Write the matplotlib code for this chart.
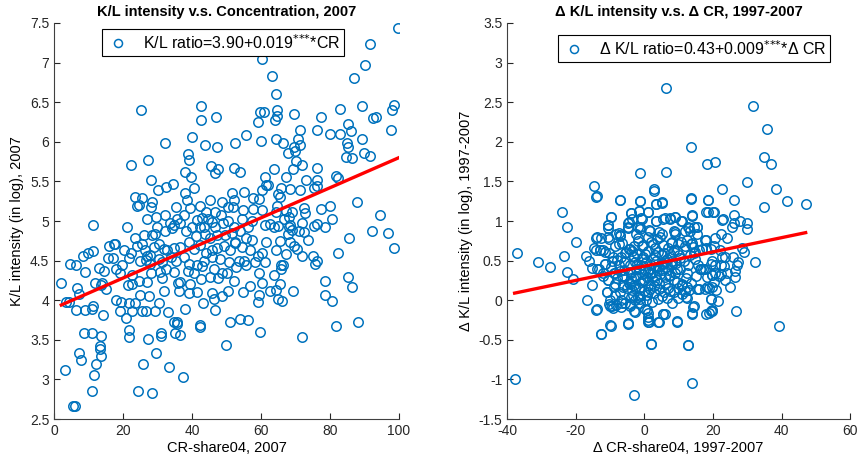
import numpy as np
import matplotlib
matplotlib.use('Agg')
import matplotlib.pyplot as plt
from matplotlib.ticker import FuncFormatter

plt.rcParams['font.family'] = ['Liberation Sans', 'DejaVu Sans']

# ---- data (CR-share04, K/L intensity), 2007 ----
pts_2007 = [
    # upper part
    (25.2,6.40),(42.7,6.45),(42.7,6.28),(46.9,6.31),(40.0,6.06),(32.3,5.99),(43.8,5.96),(47.2,5.93),
    (22.2,5.71),(27.2,5.77),(38.7,5.84),(39.1,5.77),(45.4,5.69),(47.4,5.66),(46.6,5.61),(38.1,5.62),
    (39.6,5.56),(28.0,5.52),(34.6,5.47),(11.4,4.95),(60.3,7.05),
    (99.8,7.44),(91.7,7.24),(90.2,6.97),(87.1,6.80),(63.1,6.83),(64.3,6.60),(59.6,6.37),(61.0,6.38),
    (64.6,6.40),(64.1,6.28),(64.5,6.32),(59.2,6.25),(69.7,6.35),(77.4,6.31),(82.8,6.41),(89.4,6.45),
    (93.2,6.31),(92.6,6.30),(98.7,6.46),(98.0,6.40),(97.6,6.15),(71.3,6.15),(76.2,6.15),(79.9,6.10),
    (82.8,6.10),(85.2,6.23),(86.0,6.13),(70.8,6.03),(71.3,5.96),(89.4,6.03),(84.8,5.98),(85.2,5.93),
    (84.5,5.81),(86.4,5.79),(89.8,5.86),(91.7,5.82),(55.6,6.08),(52.5,5.99),(60.0,6.01),(64.3,6.03),
    (66.4,5.99),(67.7,5.86),(70.0,5.88),(69.5,5.93),(70.1,5.76),(72.0,5.71),(69.3,5.66),(63.9,5.66),
    (52.3,5.67),(53.8,5.62),(76.2,5.67),(61.2,5.56),(67.3,5.56),(73.1,5.52),(76.2,5.52),(81.6,5.57),
    (82.4,5.54),(61.5,5.45),(76.2,5.44),(75.5,5.42),(68.5,5.40),(71.2,5.39),(65.0,5.34),(65.4,5.30),
    (65.8,5.42),(61.9,5.45),(64.6,5.19),(64.3,5.12),(67.3,5.13),(68.9,5.12),(72.4,5.17),(72.8,5.10),
    (68.1,5.05),(66.6,5.03),(77.4,5.15),(80.1,5.19),(80.5,5.02),(87.8,5.24),(94.4,5.07),(62.5,4.96),
    (68.5,4.95),(76.2,4.96),(72.0,4.97),
    # dense middle
    (30.1,5.39),(32.4,5.43),(38.0,5.35),(40.5,5.42),(23.5,5.30),(24.7,5.20),(25.4,5.29),(28.5,5.24),
    (28.1,5.18),(24.1,5.19),(35.5,5.18),(38.4,5.26),(39.5,5.16),(42.2,5.19),(45.3,5.27),(48.8,5.24),
    (51.5,5.35),(52.1,5.27),(55.2,5.37),(57.7,5.29),(59.4,5.28),(60.2,5.39),(44.0,5.11),(43.0,5.04),
    (46.7,5.11),(50.5,5.18),(51.9,5.18),(54.8,5.14),(57.7,5.15),(60.2,5.14),(21.2,4.93),(27.0,5.02),
    (29.5,5.05),(32.2,5.08),(35.7,5.03),(37.8,5.07),(41.3,5.01),(44.7,5.02),(45.9,4.99),(48.4,5.07),
    (50.4,5.00),(54.4,5.02),(57.5,5.00),(29.9,4.92),(33.5,4.97),(34.9,4.95),(36.6,4.97),(39.9,4.92),
    (42.2,4.92),(43.4,4.92),(46.7,4.93),(49.0,4.97),(52.1,4.92),(54.0,4.87),(56.1,4.92),(23.5,4.79),
    (26.2,4.82),(28.5,4.82),(29.3,4.84),(32.2,4.87),(34.1,4.91),(38.2,4.87),(41.1,4.81),(43.8,4.83),
    (45.3,4.79),(47.1,4.82),(49.6,4.82),(51.5,4.85),(52.5,4.74),(55.6,4.78),(57.3,4.76),(17.7,4.71),
    (20.4,4.64),(22.3,4.60),(24.1,4.68),(25.6,4.71),(26.4,4.63),(27.0,4.56),(27.7,4.57),(28.9,4.67),
    (30.5,4.71),(31.8,4.65),(32.8,4.63),(34.7,4.66),(36.6,4.67),(39.1,4.74),(40.5,4.65),(42.4,4.70),
    (44.0,4.60),(45.9,4.63),(47.3,4.66),(49.2,4.69),(50.9,4.63),(52.5,4.72),(54.4,4.67),(56.7,4.64),
    (59.2,4.56),(60.2,4.59),(19.6,4.44),(21.6,4.53),(25.0,4.50),(26.6,4.51),(27.9,4.46),(30.3,4.52),
    (31.4,4.48),(33.9,4.55),(35.5,4.50),(37.6,4.54),(39.1,4.46),(41.5,4.44),(43.6,4.49),(45.9,4.54),
    (48.0,4.52),(50.7,4.48),(53.6,4.49),(55.2,4.50),(58.3,4.48),(17.9,4.39),(19.2,4.34),(22.7,4.32),
    (24.7,4.24),(28.1,4.35),(30.6,4.36),(32.6,4.39),(34.7,4.36),(36.6,4.23),(38.8,4.37),(40.7,4.35),
    (43.0,4.43),(46.3,4.39),(48.8,4.35),(50.2,4.35),(52.7,4.42),(55.6,4.44),(59.4,4.35),(60.2,4.22),
    (21.4,4.19),(22.5,4.21),(27.0,4.23),(31.2,4.28),(35.9,4.22),(39.5,4.20),(42.6,4.27),(45.1,4.29),
    (47.6,4.28),(52.1,4.24),(18.1,4.00),(19.4,3.98),(21.6,3.97),(23.5,3.96),(25.0,4.07),(27.6,4.05),
    (30.3,3.96),(31.8,4.12),(36.1,4.12),(39.1,4.09),(41.5,4.11),(43.2,3.96),(45.9,4.09),(46.5,4.02),
    (48.8,4.05),(50.5,4.12),(54.8,4.11),(56.7,4.18),(59.4,4.06),(19.2,3.86),(22.5,3.86),(25.6,3.86),
    (26.8,3.87),(29.3,3.87),(33.0,3.85),(34.7,3.73),(35.7,3.73),(38.0,3.89),(42.2,3.69),(46.7,3.88),
    (50.9,3.73),(54.0,3.76),(56.3,3.75),(59.2,3.98),(21.0,3.78),
    # lower right
    (61.2,4.95),(63.7,4.92),(64.8,4.94),(68.1,4.92),(68.9,4.89),(71.0,4.87),(72.4,4.86),(75.5,4.94),
    (78.5,4.92),(92.1,4.88),(96.7,4.85),(85.5,4.79),(98.5,4.66),(61.5,4.73),(65.4,4.75),(67.7,4.83),
    (68.3,4.74),(69.7,4.69),(70.4,4.65),(73.7,4.76),(64.3,4.63),(67.3,4.58),(72.0,4.56),(75.1,4.56),
    (76.2,4.50),(75.7,4.46),(82.4,4.60),(61.2,4.48),(65.8,4.45),(66.4,4.44),(65.8,4.39),(63.7,4.32),
    (62.7,4.12),(64.3,4.13),(65.6,4.21),(65.0,4.02),(66.0,3.99),(69.3,4.12),(78.5,4.24),(78.5,4.07),
    (80.5,3.99),(85.1,4.29),(86.3,4.17),(59.6,3.60),(72.0,3.53),(81.6,3.67),(88.2,3.72),(49.8,3.43),
    # lower left
    (2.1,4.22),(4.6,4.46),(6.4,4.44),(8.3,4.56),(9.9,4.59),(11.4,4.62),(9.1,4.36),(13.0,4.41),
    (14.5,4.37),(12.0,4.22),(13.9,4.22),(13.5,4.19),(15.1,4.14),(6.6,4.16),(7.2,4.08),(3.5,3.98),
    (4.3,3.98),(6.4,3.88),(8.9,3.88),(11.0,3.89),(11.4,3.93),(14.1,3.81),(8.7,3.59),(11.0,3.59),
    (13.7,3.55),(7.3,3.34),(7.9,3.24),(13.3,3.42),(13.3,3.39),(13.5,3.29),(12.2,3.20),(3.3,3.12),
    (11.6,3.05),(11.0,2.85),(5.4,2.67),(6.2,2.67),(24.2,2.85),(28.4,2.83),(25.7,3.19),(33.2,3.16),
    (29.6,3.34),(37.3,3.03),(27.2,3.51),(21.8,3.63),(21.8,3.54),(31.1,3.59),(31.1,3.55),(35.6,3.70),
    (35.2,3.59),(36.5,3.56),(42.3,3.66),(16.0,4.69),(17.4,4.71),(15.5,4.53),(17.0,4.53),
]

# ---- changes 1997-2007 (delta CR, delta K/L) ----
pts_diff = [
    (6.4,2.68),(-1.2,1.61),(6.2,1.62),(-14.8,1.44),(-14.0,1.30),(-7.0,1.27),(-1.2,1.25),(2.7,1.40),
    (-24.1,1.12),(-22.6,0.93),(-9.8,1.05),(-3.9,1.10),(-3.5,1.02),(-1.6,1.13),(-0.8,1.03),(1.1,1.12),
    (3.5,1.22),(5.0,1.24),(3.3,1.00),(5.4,1.03),(-4.7,0.98),(-1.4,0.93),(-10.5,0.95),
    (31.8,2.45),(35.7,2.16),(13.5,1.93),(18.2,1.72),(20.5,1.74),(34.9,1.81),(36.9,1.72),(29.9,1.49),
    (22.5,1.40),(38.4,1.40),(13.5,1.29),(18.6,1.27),(26.0,1.27),(41.5,1.25),(47.0,1.22),(34.9,1.18),
    (18.6,1.12),(20.2,1.12),(26.0,1.08),(13.9,1.07),(22.9,1.02),(26.0,0.98),(27.9,1.00),(29.9,0.97),
    (9.0,1.05),(7.6,1.02),(10.9,1.00),(12.9,0.91),(15.2,0.93),
    (-37.0,0.59),(-31.1,0.48),(-27.6,0.42),(-23.4,0.56),(-19.9,0.73),(-22.6,0.36),(-20.7,0.27),
    (-17.1,0.56),(-16.0,0.49),(-14.8,0.66),(-14.0,0.63),(-12.9,0.63),(-12.1,0.64),(-15.2,0.41),
    (-13.3,0.39),(-14.0,0.79),(-12.5,0.79),(-10.5,0.91),(-10.2,0.77),(-8.2,0.84),(-7.0,0.82),
    (-7.4,0.71),(-4.7,0.91),(-1.4,0.90),(-1.8,0.79),(1.5,0.88),(4.2,0.86),(-15.2,0.19),(-16.8,0.00),
    (-14.0,-0.12),(-12.5,-0.43),(-9.8,-0.32),(-9.4,-0.07),(-9.0,-0.10),(-10.2,-0.05),(-4.7,-0.30),
    (1.9,-0.55),(-3.1,-1.19),(-37.8,-0.99),(-9.6,0.42),(-11.5,0.46),(-12.1,0.34),(-10.5,0.25),
    (-10.9,0.11),(-8.6,0.21),(-8.6,0.07),(-7.0,0.10),(-6.3,0.17),(-6.7,0.00),(-5.5,-0.03),(-4.3,-0.05),
    (-3.9,0.04),(-2.8,0.00),(-1.4,-0.03),(-1.2,0.05),(-3.0,-0.13),(1.1,-0.16),(1.1,-0.25),(1.1,-0.28),
    (0.3,-0.11),(4.2,-0.27),(5.4,-0.18),(-10.2,0.59),(-9.0,0.55),(-8.0,0.51),(-6.7,0.54),(-5.3,0.61),
    (-4.1,0.65),(-3.4,0.56),(-2.2,0.46),(-0.8,0.52),(-8.8,0.34),(-7.2,0.37),(-5.9,0.30),(-4.1,0.36),
    (-2.6,0.31),(-4.3,0.21),(-2.8,0.17),(-0.4,0.24),(1.7,0.35),(3.5,0.42),(5.4,0.46),
    (8.6,0.88),(9.0,0.83),(12.7,0.92),(13.3,0.88),(15.2,0.92),(25.5,0.93),(29.8,0.90),(17.9,0.76),
    (24.0,0.79),(28.4,0.66),(29.0,0.61),(32.1,0.48),(8.0,0.74),(9.8,0.71),(12.5,0.76),(13.6,0.71),
    (14.2,0.67),(15.8,0.63),(18.1,0.66),(20.4,0.68),(22.0,0.64),(23.4,0.55),(25.7,0.55),(27.2,0.48),
    (26.9,0.44),(23.2,0.43),(20.6,0.44),(19.7,0.49),(17.0,0.39),(16.2,0.40),(19.7,0.32),(20.6,0.34),
    (22.4,0.33),(24.1,0.34),(26.3,0.37),(26.5,0.29),(23.6,0.25),(24.9,0.17),(20.4,0.23),(18.9,0.15),
    (18.3,0.17),(19.5,0.02),(21.6,-0.01),(15.4,0.14),(12.3,0.17),(11.9,0.12),(12.3,0.03),(14.2,-0.08),
    (14.0,-0.16),(18.7,-0.16),(19.7,-0.13),(26.7,-0.13),(9.6,-0.26),(12.7,-0.57),(13.8,-1.05),
    (39.1,-0.33),(6.1,-0.18),(7.4,0.32),(9.6,0.23),(10.9,0.19),(8.0,0.46),(10.3,0.53),
    (-13.8,1.31),(-7.1,1.26),(-1.3,1.25),(2.8,1.38),(3.5,1.21),(5.1,1.23),(13.5,1.28),(18.5,1.26),
    (20.1,1.11),(22.6,1.01),(17.9,1.11),(13.9,1.06),(-9.7,1.05),(-10.5,0.95),(-4.0,1.10),(-4.6,0.99),
    (-4.8,0.92),(-1.5,1.13),(1.2,1.11),(-1.1,1.04),(-1.9,0.93),(1.4,0.89),(3.5,1.00),(6.1,1.04),
    (7.6,1.04),(9.0,1.05),(10.7,1.00),(11.9,0.87),(14.4,0.92),(15.2,0.83),(17.7,0.76),(20.5,0.78),
    (22.2,0.84),(-13.8,0.80),(-10.6,0.80),(-7.5,0.85),(-7.1,0.81),(-2.3,0.83),(1.2,0.80),(5.1,0.84),
    (9.0,0.86),(7.8,0.72),(11.9,0.68),(13.9,0.72),(-12.8,0.63),(-11.4,0.61),(-8.5,0.68),(-6.6,0.72),
    (-4.6,0.65),(-2.9,0.68),(-0.7,0.69),(2.4,0.71),(3.7,0.77),(5.5,0.70),(8.6,0.64),(14.8,0.61),
    (16.8,0.65),(19.3,0.65),(22.6,0.55),(-13.8,0.40),(-11.6,0.46),(-9.5,0.50),(-6.0,0.48),(-3.1,0.55),
    (0.2,0.58),(3.2,0.57),(5.7,0.59),(10.0,0.57),(13.3,0.57),(14.8,0.52),(16.4,0.40),(17.7,0.39),
    (19.5,0.46),(22.2,0.44),(-12.0,0.30),(-10.5,0.25),(-8.5,0.34),(-6.6,0.30),(-4.0,0.35),(-1.7,0.40),
    (1.0,0.37),(4.1,0.42),(7.0,0.38),(9.6,0.39),(12.5,0.35),(15.0,0.31),(18.3,0.29),(19.7,0.32),
    (21.8,0.31),(-10.8,0.10),(-8.9,0.17),(-6.2,0.19),(-3.6,0.13),(-1.1,0.23),(1.2,0.19),(3.7,0.25),
    (6.1,0.20),(8.6,0.25),(10.9,0.21),(12.9,0.13),(15.8,0.14),(17.7,0.14),(19.7,0.17),(20.8,0.13),
    (-10.1,0.00),(-8.3,-0.06),(-6.6,-0.04),(-4.2,-0.07),(-1.9,0.04),(0.4,0.00),(2.8,0.09),(5.1,0.05),
    (7.4,0.12),(9.8,0.03),(12.1,0.04),(14.4,-0.07),(19.3,0.02),(19.3,-0.13),(-13.8,-0.11),(-9.9,-0.07),
    (-6.9,-0.08),(-2.7,-0.15),(0.8,-0.12),(1.2,-0.21),(1.4,-0.27),(5.3,-0.18),(9.4,-0.27),(13.9,-0.17),
    (18.1,-0.17),(19.7,-0.12),(-9.9,-0.31),(-4.8,-0.29),(4.1,-0.27),(-12.6,-0.43),(2.0,-0.55),(12.7,-0.57),
    (-3.5,0.62),(-2.0,0.58),(-0.5,0.55),(1.0,0.62),(2.5,0.52),(4.0,0.61),(6.5,0.52),(8.0,0.49),
    (-4.2,0.45),(-2.6,0.48),(-1.0,0.44),(0.5,0.48),(2.0,0.45),(3.4,0.50),(5.0,0.46),(6.2,0.42),
    (7.8,0.44),(9.2,0.47),(-3.8,0.28),(-2.3,0.31),(-0.6,0.33),(0.8,0.29),(2.3,0.34),(3.0,0.30),
    (4.7,0.33),(5.9,0.29),(7.3,0.31),(8.8,0.34),(-4.5,0.22),(-2.9,0.19),(-1.6,0.15),(0.0,0.12),
    (1.7,0.14),(2.9,0.18),(4.4,0.14),(5.6,0.10),(7.0,0.16),(8.5,0.11),(9.9,0.15),(-3.2,0.06),
    (-1.4,0.02),(0.9,0.06),(2.2,-0.02),(3.9,0.01),(6.5,0.03),(8.0,-0.03),(-0.3,0.70),(1.9,0.74),
    (3.0,0.66),(5.0,0.57),(6.8,0.66),(-1.8,0.75),(4.5,0.80),(0.3,0.38),(1.5,0.40),(2.7,0.24),
    (3.8,0.38),(-0.2,0.26),(1.1,0.10),(4.2,0.22),(5.2,0.38),(6.0,0.50),(7.5,0.58),(-2.5,0.40),
    (10.5,0.40),(11.5,0.50),(9.5,0.62),(10.8,0.73),(12.8,0.45),(12.0,0.28),(11.0,0.08),(13.5,0.22),
    (15.5,0.45),(14.5,0.60),(-6.0,0.38),(-5.2,0.15),(-7.5,0.45),(-5.5,0.60),(-8.0,0.28),
]

# reported regressions
fit_2007 = (3.90, 0.019)
fit_diff = (0.43, 0.009)

cr07, kl07 = np.array(pts_2007).T
dcr, dkl = np.array(pts_diff).T

blue = '#0072BD'
fmt = FuncFormatter(lambda v, p: '%g' % v)
stars = r'$^{{*}{*}{*}}$'


def panel(ax, x, y, fit, xlim, ylim, xticks, yticks, title, xlabel, ylabel, label, lx, ly):
    ax.plot(x, y, 'o', mfc='none', mec=blue, mew=1.1, ms=6.8, label=label)
    xx = np.array([x.min(), x.max()])
    ax.plot(xx, fit[0] + fit[1] * xx, '-', color='red', lw=2.4)
    ax.set_xlim(xlim)
    ax.set_ylim(ylim)
    ax.set_xticks(xticks)
    ax.set_yticks(yticks)
    ax.xaxis.set_major_formatter(fmt)
    ax.yaxis.set_major_formatter(fmt)
    ax.spines['top'].set_visible(False)
    ax.spines['right'].set_visible(False)
    for s in ['left', 'bottom']:
        ax.spines[s].set_color('#404040')
        ax.spines[s].set_linewidth(0.8)
    ax.tick_params(direction='in', length=4, labelsize=10, colors='#262626')
    ax.set_title(title, fontsize=10.5, weight='bold', pad=5)
    ax.set_xlabel(xlabel, fontsize=10.5, labelpad=2)
    ax.set_ylabel(ylabel, fontsize=10.5, labelpad=4)
    lg = ax.legend(loc='upper center', bbox_to_anchor=(lx, ly), fontsize=11.5,
                   frameon=True, fancybox=False, handletextpad=0.8, borderpad=0.25,
                   handlelength=1.5, markerscale=0.85)
    lg.get_frame().set_edgecolor('black')
    lg.get_frame().set_linewidth(0.8)
    lg.get_frame().set_alpha(1)


fig = plt.figure(figsize=(8.58, 4.59), dpi=100)
ax1 = fig.add_axes([0.063, 0.087, 0.402, 0.863])
ax2 = fig.add_axes([0.591, 0.087, 0.400, 0.863])

panel(ax1, cr07, kl07, fit_2007, (0, 100), (2.5, 7.5), np.arange(0, 101, 20), np.arange(2.5, 7.6, 0.5),
      'K/L intensity v.s. Concentration, 2007', 'CR-share04, 2007', 'K/L intensity (in log), 2007',
      'K/L ratio=3.90+0.019' + stars + '*CR', 0.49, 1.005)
panel(ax2, dcr, dkl, fit_diff, (-40, 60), (-1.5, 3.5), np.arange(-40, 61, 20), np.arange(-1.5, 3.6, 0.5),
      '\u0394 K/L intensity v.s. \u0394 CR, 1997-2007', '\u0394 CR-share04, 1997-2007',
      '\u0394 K/L intensity (in log), 1997-2007',
      '\u0394 K/L ratio=0.43+0.009' + stars + '*\u0394 CR', 0.545, 0.99)

fig.savefig('out.png', dpi=100)
